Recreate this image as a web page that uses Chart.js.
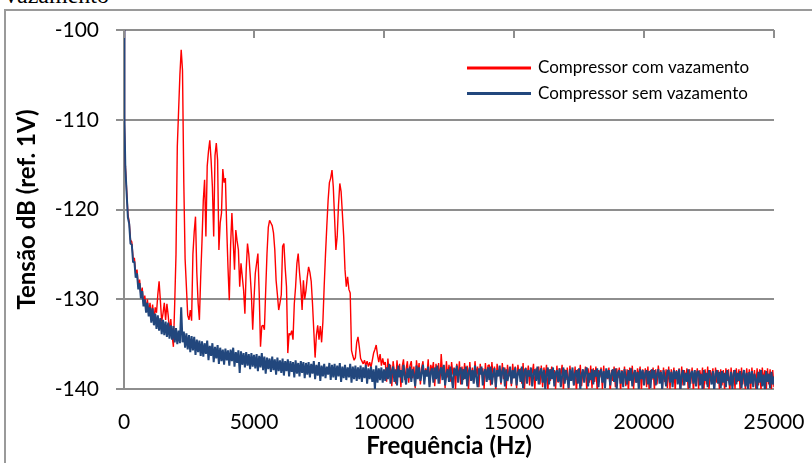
<!DOCTYPE html>
<html>
<head>
<meta charset="utf-8">
<script src="https://cdn.jsdelivr.net/npm/chart.js@4.4.0/dist/chart.umd.min.js"></script>
<style>
  html, body { margin: 0; padding: 0; background: #fff; overflow: hidden; }
  body { width: 812px; height: 463px; position: relative; }
  .legenda-fig { position: absolute; left: 5px; top: -17px; font: 24px/24px "Liberation Serif", "DejaVu Serif", serif; color: #000; }
  .moldura { position: absolute; left: 4px; top: 9px; width: 1000px; height: 1000px; border-left: 2px solid #9a9a9a; border-top: 2px solid #9a9a9a; }
  #myChart { position: absolute; left: 0; top: 0; }
</style>
</head>
<body>
<div class="legenda-fig">vazamento</div>
<div class="moldura"></div>
<canvas id="myChart" width="812" height="463"></canvas>
<script>
// frequencias de amostragem (Hz): 0, 10, 25 e depois de 50 em 50 Hz
const freqBaixas = [0, 10, 25];
const freqs = freqBaixas.slice();
for (let f = 50; f <= 25000; f += 50) freqs.push(f);

const yTicks = [-140, -130, -120, -110, -100];
const xTicks = [0, 5000, 10000, 15000, 20000, 25000];

// Compressor com vazamento (dB)
const comBaixas = [-100, -104.5, -110.5];
const comAte10k = [
  -115.0, -117.8, -120.5, -121.4, -123.4, -123.6, -125.5, -125.4, -127.2, -126.7, -128.6, -127.8, -129.6, -128.7, -130.5, -129.6, -131.2, -130.0, -131.6, -130.4,
  -132.0, -130.6, -132.4, -130.9, -131.5, -129.5, -128.0, -130.2, -132.5, -131.6, -130.4, -132.3, -130.5, -131.8, -133.6, -132.2, -134.0, -135.3, -130.5, -125.0,
  -113.0, -109.0, -105.0, -102.2, -104.5, -117.0, -125.5, -128.6, -131.8, -132.3, -131.2, -132.4, -125.0, -122.5, -120.8, -127.0, -130.4, -132.3, -127.5, -123.5,
  -119.0, -116.7, -123.0, -115.2, -113.5, -112.3, -114.5, -117.5, -123.0, -114.0, -112.6, -114.5, -124.5, -121.5, -120.4, -115.5, -117.0, -116.5, -122.0, -126.5,
  -130.1, -124.0, -120.4, -123.5, -126.7, -122.3, -123.5, -124.5, -128.6, -126.0, -127.5, -129.0, -131.6, -126.7, -123.8, -125.0, -127.1, -129.5, -133.4, -130.0,
  -127.1, -126.0, -124.9, -129.3, -135.3, -133.0, -132.9, -133.4, -129.0, -124.9, -122.0, -121.2, -121.5, -121.8, -122.6, -124.5, -127.9, -129.5, -131.2, -130.4,
  -129.5, -124.1, -123.8, -126.5, -128.6, -136.0, -133.8, -134.0, -133.5, -134.5, -130.5, -128.6, -126.0, -124.9, -127.0, -128.6, -131.2, -127.9, -130.0, -129.0,
  -127.5, -126.4, -127.0, -128.0, -130.5, -133.5, -136.5, -134.0, -132.9, -134.5, -133.0, -134.8, -132.5, -128.5, -125.0, -121.9, -119.0, -117.0, -116.5, -115.6,
  -117.5, -121.0, -124.5, -123.0, -119.5, -117.1, -118.0, -120.5, -123.0, -126.7, -128.6, -127.5, -128.9, -129.3, -135.7, -136.3, -136.8, -136.5, -134.8, -134.2,
  -135.3, -136.6, -136.9, -137.2, -136.8, -137.4, -136.9, -137.5, -137.0, -137.6, -136.8, -136.0, -135.6, -135.1, -136.2, -137.0, -136.1, -137.4, -136.6, -137.3
];
const comAte25k = [
  -137.0, -139.2, -136.6, -138.4, -137.3, -139.7, -136.9, -138.1, -139.4, -136.8, -138.6, -137.2, -139.8, -137.5, -136.7, -139.0, -137.8, -136.9, -139.3, -137.4,
  -136.9, -138.8, -137.5, -139.9, -136.8, -138.3, -137.1, -139.5, -137.6, -136.9, -139.1, -137.7, -138.5, -136.7, -139.6, -137.3, -138.0, -137.0, -139.7, -137.2,
  -138.6, -137.1, -139.4, -136.1, -138.2, -137.4, -139.9, -136.9, -138.7, -137.3, -139.2, -137.0, -138.4, -137.6, -140.0, -137.2, -138.9, -136.9, -139.5, -137.5,
  -139.0, -137.1, -138.6, -137.4, -140.1, -137.0, -138.8, -137.6, -139.3, -136.9, -138.5, -137.5, -139.8, -137.2, -138.3, -137.7, -140.0, -137.1, -138.9, -137.4,
  -137.3, -139.6, -137.0, -138.7, -137.5, -140.2, -137.2, -138.4, -137.8, -139.5, -137.1, -138.9, -137.6, -140.0, -137.3, -138.6, -137.9, -139.7, -137.2, -138.8,
  -137.5, -139.9, -137.3, -138.5, -137.7, -139.4, -137.1, -140.2, -137.6, -138.8, -137.4, -139.6, -137.9, -138.3, -137.2, -140.1, -137.7, -138.9, -137.5, -139.5,
  -137.4, -139.8, -137.6, -138.6, -137.3, -140.3, -137.8, -139.1, -137.5, -138.7, -137.9, -140.0, -137.4, -139.3, -137.7, -138.5, -137.3, -140.2, -137.8, -139.0,
  -137.6, -140.1, -137.4, -138.8, -137.9, -139.6, -137.5, -140.4, -137.8, -139.0, -137.3, -139.7, -137.9, -138.6, -137.5, -140.2, -137.7, -139.3, -137.4, -139.9,
  -137.7, -139.2, -137.5, -140.3, -137.9, -138.7, -137.6, -140.0, -137.4, -139.5, -137.8, -138.9, -137.6, -140.4, -137.9, -139.1, -137.5, -139.8, -137.7, -138.8,
  -137.6, -140.2, -137.9, -139.0, -137.5, -139.7, -137.8, -140.3, -137.6, -138.9, -137.4, -140.0, -137.9, -139.3, -137.7, -138.6, -137.5, -140.2, -137.8, -139.4,
  -137.7, -139.8, -137.5, -140.3, -137.9, -139.0, -137.6, -140.1, -137.8, -139.5, -137.4, -138.8, -137.9, -140.4, -137.6, -139.2, -137.8, -139.9, -137.5, -140.0,
  -137.8, -139.3, -137.6, -140.2, -137.9, -138.9, -137.7, -140.4, -137.5, -139.6, -137.9, -139.0, -137.7, -140.1, -137.8, -139.4, -137.6, -140.3, -137.9, -138.9,
  -137.7, -140.0, -137.9, -139.2, -137.6, -140.4, -137.8, -139.5, -137.5, -140.1, -137.9, -138.9, -137.7, -140.3, -137.6, -139.3, -137.9, -140.0, -137.8, -139.6,
  -137.9, -140.2, -137.7, -139.1, -137.8, -140.4, -137.6, -139.7, -137.9, -140.0, -137.7, -139.2, -137.8, -140.3, -137.6, -139.5, -137.9, -140.1, -137.7, -139.4,
  -137.8, -140.3, -137.6, -139.3, -137.9, -140.0, -137.7, -139.6, -137.8, -140.2, -137.6, -139.1, -137.9, -140.4, -137.7, -139.5, -137.8, -140.1, -137.9, -139.8
];

// Compressor sem vazamento (dB)
const semBaixas = [-100, -104, -110];
const semAte10k = [
  -115.2, -118.1, -120.9, -121.6, -123.8, -123.9, -125.9, -125.8, -127.6, -127.1, -128.9, -128.2, -129.9, -129.1, -130.8, -130.0, -131.5, -130.4, -131.9, -130.9,
  -132.6, -131.0, -132.9, -131.6, -133.3, -131.8, -133.5, -132.1, -133.9, -132.3, -134.0, -132.5, -134.2, -132.6, -134.4, -132.9, -134.5, -133.0, -134.8, -133.2,
  -135.0, -133.5, -134.9, -130.9, -134.8, -133.6, -135.4, -133.8, -135.6, -134.0, -135.9, -134.1, -135.7, -134.2, -136.2, -134.5, -135.9, -134.6, -136.3, -134.7,
  -136.4, -134.9, -136.1, -134.6, -136.8, -135.2, -136.3, -134.9, -137.0, -135.3, -136.6, -135.1, -137.2, -135.4, -136.9, -135.6, -137.3, -135.5, -136.8, -135.7,
  -137.4, -135.6, -136.9, -135.4, -137.5, -135.9, -137.1, -135.7, -138.2, -135.8, -137.3, -136.0, -137.6, -135.9, -137.4, -136.1, -137.8, -136.0, -137.5, -136.2,
  -137.7, -136.1, -138.0, -136.3, -137.6, -136.0, -137.9, -136.4, -138.3, -136.5, -137.8, -136.6, -138.1, -136.4, -137.9, -136.7, -138.4, -136.5, -138.0, -136.8,
  -138.2, -136.6, -138.5, -136.9, -138.0, -136.7, -138.6, -136.9, -138.1, -137.0, -138.7, -136.8, -138.3, -137.1, -138.6, -136.9, -138.2, -137.0, -138.8, -137.1,
  -138.4, -137.0, -138.7, -137.2, -138.3, -136.9, -138.9, -137.3, -138.5, -137.0, -139.1, -137.4, -138.6, -137.2, -138.8, -137.5, -138.4, -137.1, -139.0, -137.3,
  -138.7, -137.2, -139.0, -137.4, -138.6, -137.1, -139.2, -137.5, -138.8, -137.3, -139.0, -137.6, -138.7, -137.2, -139.3, -137.5, -138.9, -137.4, -139.1, -137.6,
  -138.9, -137.4, -139.2, -137.6, -138.8, -137.3, -139.4, -137.7, -138.9, -137.5, -139.2, -137.8, -140.0, -137.4, -139.3, -137.7, -139.0, -137.6, -139.3, -137.8
];
const semAte25k = [
  -139.1, -137.6, -138.9, -137.2, -139.4, -138.0, -137.5, -139.2, -137.8, -139.6, -137.4, -138.7, -137.9, -139.3, -137.3, -138.5, -139.5, -137.7, -138.8, -137.5,
  -139.2, -137.8, -138.4, -139.7, -137.4, -138.9, -137.6, -139.1, -138.2, -137.3, -139.5, -137.9, -138.6, -137.5, -139.8, -138.1, -137.7, -139.3, -137.6, -138.9,
  -137.4, -139.4, -138.0, -137.6, -139.0, -137.3, -139.6, -138.3, -137.8, -139.2, -137.5, -138.8, -139.9, -137.7, -138.5, -137.4, -139.3, -138.0, -137.6, -139.5,
  -137.8, -138.9, -137.5, -139.7, -138.2, -137.6, -139.1, -137.9, -139.4, -137.4, -138.7, -139.8, -137.7, -138.4, -137.5, -139.6, -138.1, -137.8, -139.2, -137.6,
  -139.0, -137.5, -139.5, -138.3, -137.7, -139.8, -137.9, -138.6, -137.4, -139.3, -138.0, -137.6, -139.7, -137.8, -139.1, -138.4, -137.5, -139.4, -137.9, -138.8,
  -137.6, -139.6, -138.2, -137.8, -139.2, -137.5, -139.9, -138.0, -137.7, -139.4, -137.9, -138.6, -137.6, -139.7, -138.3, -137.8, -139.1, -137.5, -139.5, -138.1,
  -137.7, -139.3, -137.9, -140.0, -138.4, -137.6, -139.5, -137.8, -138.9, -137.6, -139.7, -138.2, -137.9, -139.2, -137.7, -139.8, -138.5, -137.6, -139.4, -137.9,
  -138.7, -139.9, -137.8, -139.1, -137.6, -139.6, -138.3, -137.9, -139.4, -137.7, -140.1, -138.4, -137.8, -139.3, -138.0, -137.6, -139.7, -138.2, -139.0, -137.8,
  -139.5, -137.9, -138.6, -137.7, -139.8, -138.1, -137.8, -139.3, -138.0, -139.9, -137.7, -138.8, -137.9, -139.6, -138.3, -137.8, -139.2, -137.7, -140.0, -138.2,
  -137.9, -139.4, -138.0, -139.8, -137.8, -138.7, -139.5, -137.9, -139.1, -137.7, -139.7, -138.4, -137.9, -139.3, -138.1, -140.1, -137.8, -138.9, -137.9, -139.6,
  -138.2, -137.9, -139.5, -138.0, -139.9, -137.8, -138.8, -137.9, -139.6, -138.3, -137.8, -139.4, -138.1, -140.0, -137.9, -138.7, -139.7, -138.0, -137.9, -139.3,
  -138.1, -139.8, -137.9, -138.9, -138.0, -139.5, -137.8, -140.1, -138.4, -137.9, -139.6, -138.2, -139.2, -137.8, -139.9, -138.3, -138.0, -139.4, -137.9, -139.7,
  -138.1, -138.0, -139.6, -138.3, -140.0, -137.9, -139.1, -138.2, -139.8, -137.9, -138.6, -139.5, -138.0, -140.2, -138.3, -137.9, -139.4, -138.1, -139.9, -138.0,
  -139.3, -138.2, -139.8, -137.9, -138.8, -139.6, -138.1, -140.0, -138.3, -137.9, -139.5, -138.2, -139.1, -138.0, -139.9, -138.4, -137.9, -139.7, -138.2, -140.1,
  -138.1, -139.4, -138.0, -139.8, -138.3, -138.9, -140.0, -138.1, -139.3, -137.9, -139.7, -138.4, -140.1, -138.0, -139.2, -138.3, -139.9, -138.1, -139.5, -138.6
];

const comVazamento = comBaixas.concat(comAte10k, comAte25k);
const semVazamento = semBaixas.concat(semAte10k, semAte25k);
const pontos = (vals) => vals.map((v, i) => ({ x: freqs[i], y: v }));

const corGrade = '#8e8e8e';
const fonte = 'Lato, "Open Sans", sans-serif';

// legenda dentro da area do grafico
const legendaInterna = {
  id: 'legendaInterna',
  afterDraw(chart) {
    const ctx = chart.ctx;
    ctx.save();
    chart.data.datasets.forEach((ds, i) => {
      const y = 68 + i * 25.5;
      ctx.strokeStyle = ds.borderColor;
      ctx.lineWidth = 3;
      ctx.beginPath();
      ctx.moveTo(467, y);
      ctx.lineTo(531, y);
      ctx.stroke();
      ctx.fillStyle = '#000';
      ctx.font = '17px ' + fonte;
      ctx.textBaseline = 'middle';
      ctx.fillText(ds.label, 538, y);
    });
    ctx.restore();
  }
};

// marcas do eixo X no topo, viradas para dentro
const marcasTopo = {
  id: 'marcasTopo',
  afterDatasetsDraw(chart) {
    const { ctx, chartArea, scales: { x } } = chart;
    ctx.save();
    ctx.strokeStyle = corGrade;
    ctx.lineWidth = 2;
    x.ticks.forEach(t => {
      const px = Math.round(x.getPixelForValue(t.value));
      ctx.beginPath();
      ctx.moveTo(px, chartArea.top);
      ctx.lineTo(px, chartArea.top + 8);
      ctx.stroke();
    });
    ctx.restore();
  }
};

const ctx = document.getElementById('myChart');
new Chart(ctx, {
  type: 'line',
  data: {
    datasets: [{
      label: 'Compressor com vazamento',
      data: pontos(comVazamento),
      borderColor: '#ff0000',
      borderWidth: 1.4,
      order: 1
    }, {
      label: 'Compressor sem vazamento',
      data: pontos(semVazamento),
      borderColor: '#22477d',
      borderWidth: 2,
      order: 0
    }]
  },
  options: {
    responsive: false,
    devicePixelRatio: 1,
    animation: false,
    layout: { padding: { left: 0, right: 38, top: 30, bottom: 0 } },
    elements: {
      point: { radius: 0 },
      line: { tension: 0, borderJoinStyle: 'bevel' }
    },
    plugins: { legend: { display: false }, tooltip: { enabled: false } },
    scales: {
      x: {
        type: 'linear',
        min: xTicks[0],
        max: xTicks[xTicks.length - 1],
        afterFit: (s) => { s.height = 74; s.paddingLeft = 0; s.paddingRight = 0; },
        afterBuildTicks: (s) => { s.ticks = xTicks.map(v => ({ value: v })); },
        grid: { display: false, drawTicks: false },
        border: { display: false },
        ticks: {
          padding: 21,
          color: '#000',
          font: { family: fonte, size: 21 },
          maxRotation: 0,
          callback: (v) => String(v)
        },
        title: {
          display: true,
          text: 'Frequência (Hz)',
          color: '#000',
          font: { family: fonte, size: 24, weight: 'bold' },
          padding: { top: 0, bottom: 2 }
        }
      },
      y: {
        min: yTicks[0],
        max: yTicks[yTicks.length - 1],
        afterFit: (s) => { s.width = 124; s.paddingTop = 0; s.paddingBottom = 0; },
        afterBuildTicks: (s) => { s.ticks = yTicks.map(v => ({ value: v })); },
        grid: { color: corGrade, lineWidth: 2, tickLength: 8, drawTicks: true },
        border: { display: true, color: corGrade, width: 2 },
        ticks: {
          padding: 17,
          color: '#000',
          font: { family: fonte, size: 21 },
          callback: (v) => String(v)
        },
        title: {
          display: true,
          text: 'Tensão dB (ref. 1V)',
          color: '#000',
          font: { family: fonte, size: 24, weight: 'bold' },
          padding: { top: 13, bottom: 0 }
        }
      }
    }
  },
  plugins: [marcasTopo, legendaInterna]
});
</script>
</body>
</html>
